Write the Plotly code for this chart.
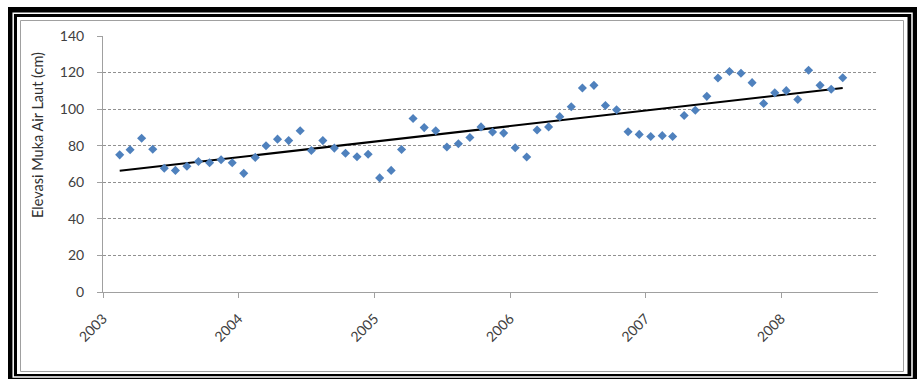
import numpy as np
import pandas as pd
import plotly.graph_objects as go

# ---- data (monthly, Feb 2003 .. Jun 2008) ----
start_month = "2003-02-01"
elevasi_cm = [
    75.0, 77.8, 84.1, 78.1, 67.7, 66.5, 68.8, 71.4, 70.7, 72.3, 70.7,          # 2003 Feb-Dec
    64.9, 73.6, 80.0, 83.6, 82.8, 88.2, 77.4, 82.8, 78.7, 75.9, 74.0, 75.3,    # 2004
    62.4, 66.5, 77.9, 94.9, 89.9, 88.2, 79.3, 81.1, 84.5, 90.3, 87.5, 86.9,    # 2005
    78.9, 73.8, 88.6, 90.3, 95.9, 101.3, 111.6, 113.0, 102.0, 99.6, 87.6, 86.2,  # 2006
    85.0, 85.5, 85.0, 96.5, 99.4, 107.0, 117.0, 120.6, 119.6, 114.5, 103.1, 108.9,  # 2007
    110.1, 105.3, 121.3, 113.0, 110.9, 117.2,                                  # 2008 Jan-Jun
]
y_ticks = [0, 20, 40, 60, 80, 100, 120, 140]
y_title = "Elevasi Muka Air Laut (cm)"

dates = pd.date_range(start_month, periods=len(elevasi_cm), freq="MS") + pd.Timedelta(days=14)

# linear trendline (least squares on date value)
days = (dates - pd.Timestamp("2003-01-01")).days.values.astype(float)
slope, intercept = np.polyfit(days, np.array(elevasi_cm), 1)
trend_x = [dates[0], dates[-1]]
trend_y = [intercept + slope * days[0], intercept + slope * days[-1]]

W, H = 917, 379
L, R, T, B = 103, 39, 36, 87
PW, PH = W - L - R, H - T - B


def px(x):
    return (x - L) / PW


def py(y):
    return 1 - (y - T) / PH


FONT = "Lato, 'Open Sans', sans-serif"

fig = go.Figure()
fig.add_trace(go.Scatter(
    x=trend_x, y=trend_y, mode="lines",
    line=dict(color="black", width=2), showlegend=False, hoverinfo="skip",
))
fig.add_trace(go.Scatter(
    x=dates, y=elevasi_cm, mode="markers",
    marker=dict(symbol="diamond", size=7, color="#4F81BD", line=dict(width=0)),
    showlegend=False,
))

shapes = [
    dict(type="rect", xref="paper", yref="paper", x0=px(8), x1=px(930), y0=py(7), y1=py(395),
         fillcolor="black", line=dict(width=0), layer="below"),
    dict(type="rect", xref="paper", yref="paper", x0=px(13.2), x1=px(912), y0=py(13.2), y1=py(377),
         fillcolor="rgba(0,0,0,0)", line=dict(color="white", width=1.5), layer="below"),
    dict(type="rect", xref="paper", yref="paper", x0=px(17), x1=px(907.5), y0=py(17), y1=py(374),
         fillcolor="white", line=dict(width=0), layer="below"),
    dict(type="rect", xref="paper", yref="paper", x0=px(20.5), x1=px(903.5), y0=py(20.5), y1=py(371.5),
         fillcolor="rgba(0,0,0,0)", line=dict(color="#a0a0a0", width=1), layer="below"),
]

fig.update_layout(
    width=W, height=H,
    margin=dict(l=L, r=R, t=T, b=B, pad=0),
    paper_bgcolor="white", plot_bgcolor="rgba(0,0,0,0)",
    font=dict(family=FONT, size=14, color="#404040"),
    shapes=shapes,
    annotations=[dict(
        text=y_title, xref="paper", yref="paper", x=px(37), y=py(135),
        xanchor="center", yanchor="middle", textangle=-90, showarrow=False,
        font=dict(family=FONT, size=14.5, color="#303030"),
    )],
)
fig.update_xaxes(
    type="date", range=["2003-01-01", "2008-09-18"],
    tick0="2003-01-01", dtick="M12", tickformat="%Y", tickangle=-45,
    ticks="outside", ticklen=5, tickcolor="#a0a0a0", ticklabelstandoff=7,
    showline=True, linecolor="#a0a0a0", linewidth=1,
    showgrid=False, zeroline=False,
)
fig.update_yaxes(
    range=[0, 140], tickvals=y_ticks,
    ticks="outside", ticklen=5, tickcolor="#a0a0a0", ticklabelstandoff=10,
    showline=True, linecolor="#a0a0a0", linewidth=1,
    showgrid=True, gridcolor="#909090", griddash="3px,2px", gridwidth=1,
    zeroline=False,
)

fig.write_html("out.html")
